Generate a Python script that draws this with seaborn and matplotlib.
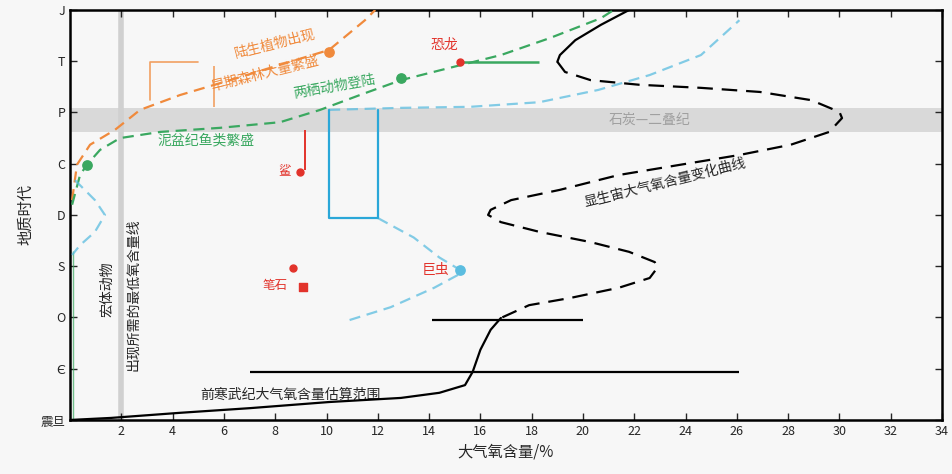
import matplotlib
matplotlib.use("Agg")
import matplotlib.pyplot as plt
import pandas as pd
import seaborn as sns

# ---- axes content ----
period_labels = ["震旦", "Є", "O", "S", "D", "C", "P", "T", "J"]
oxygen_ticks = list(range(2, 35, 2))

# Phanerozoic atmospheric O2 curve: oxygen (%) vs. period position
o2_x = [21.8, 20.7, 19.7, 19.1, 19.0, 19.3, 20.3, 22.2, 24.6, 26.9, 28.9, 30.0, 30.1,
        29.6, 28.1, 26.1, 23.8, 21.4, 19.1, 17.2, 16.4, 16.3, 16.8, 18.3, 20.3, 21.8,
        22.8, 22.9, 22.6, 21.4, 19.5, 17.9, 16.8, 16.4, 16.0, 15.7, 15.4, 14.4, 12.9,
        10.1, 7.0, 4.3, 1.6, 0.0]
o2_y = [8.0, 7.71, 7.41, 7.12, 6.99, 6.79, 6.63, 6.54, 6.48, 6.40, 6.24, 6.01, 5.89,
        5.62, 5.37, 5.17, 4.98, 4.78, 4.49, 4.29, 4.10, 4.0, 3.86, 3.67, 3.47, 3.28,
        3.08, 2.97, 2.77, 2.58, 2.38, 2.24, 1.99, 1.76, 1.37, 0.94, 0.68, 0.53, 0.43,
        0.35, 0.23, 0.14, 0.04, 0.0]
dashed_start, dashed_end = 4, 32

# uncertainty ranges (y, x_min, x_max)
range_y = [1.95, 0.94]
range_xmin = [14.1, 7.0]
range_xmax = [20.0, 26.1]

# land plants (orange)
plant_x = [0.08, 0.27, 0.78, 1.75, 2.73, 4.29, 6.24, 8.19, 10.1, 11.5, 11.9]
plant_y = [4.29, 4.98, 5.37, 5.66, 6.05, 6.34, 6.63, 6.93, 7.22, 7.80, 8.0]
plant_box_x = [3.1, 5.0]
plant_box_y = [6.24, 6.99]

# vertebrates (green)
vert_x = [0.08, 0.39, 0.66, 1.17, 1.95, 3.51, 5.85, 8.19, 9.75, 11.3, 12.9, 14.8,
          16.8, 18.7, 20.7, 21.2]
vert_y = [4.2, 4.78, 4.98, 5.27, 5.50, 5.62, 5.70, 5.81, 6.05, 6.34, 6.63, 6.87,
          7.12, 7.45, 7.84, 8.0]
vert_pts_x = [0.66, 12.9]
vert_pts_y = [4.98, 6.67]
dino_x = [15.2, 18.3]
dino_y = 6.99

# invertebrates / insects (blue)
insect_upper_x = [10.1, 12.9, 15.6, 18.3, 20.6, 22.6, 24.6, 26.1]
insect_upper_y = [6.05, 6.09, 6.11, 6.20, 6.44, 6.73, 7.12, 7.80]
insect_mid_x = [12.0, 13.4, 14.4, 15.2]
insect_mid_y = [3.94, 3.56, 3.17, 2.93]
insect_low_x = [10.9, 12.5, 14.2, 15.2]
insect_low_y = [1.95, 2.20, 2.58, 2.85]
insect_left_x = [0.19, 0.97, 1.36, 0.97, 0.39, 0.08]
insect_left_y = [4.68, 4.29, 4.0, 3.67, 3.41, 3.22]
insect_box_x = [10.1, 12.0]
insect_box_y = [3.94, 6.05]

# single fossil markers (red)
red_pts_x = [8.97, 8.7, 9.1, 15.2]
red_pts_y = [4.84, 2.96, 2.59, 2.93]

carb_perm_band = [5.62, 6.09]

sns.set_theme(style="ticks")
plt.rcParams["font.family"] = ["Noto Sans CJK SC", "DejaVu Sans"]
plt.rcParams["axes.unicode_minus"] = False

BG = "#f7f7f7"
ORANGE = "#f08a3c"
GREEN = "#3aa860"
BLUE = "#5bbde0"
RED = "#e2332b"

fig = plt.figure(figsize=(9.53, 4.74), dpi=100, facecolor=BG)
ax = fig.add_axes([0.0735, 0.114, 0.915, 0.865], facecolor=BG)

# Carboniferous-Permian high-oxygen band
ax.axhspan(*carb_perm_band, color="#d9d9d9", zorder=0, lw=0)
ax.text(22.6, sum(carb_perm_band) / 2, "石炭—二叠纪", color="#a0a0a0", fontsize=10,
        ha="center", va="center")

# minimum oxygen line for animals
ax.axvline(2.0, color="#d0d0d0", lw=4, zorder=0.5)
ax.text(1.45, 2.56, "宏体动物", rotation=90, fontsize=10, ha="center", va="center")
ax.text(2.45, 2.44, "出现所需的最低氧含量线", rotation=90, fontsize=10,
        ha="center", va="center")

# main oxygen curve
curve = pd.DataFrame({"x": o2_x, "y": o2_y, "i": range(len(o2_x))})
seg_top = curve[curve.i <= dashed_start]
seg_mid = curve[(curve.i >= dashed_start) & (curve.i <= dashed_end)]
seg_low = curve[curve.i >= dashed_end]
for seg, ls in [(seg_top, "-"), (seg_mid, (0, (7, 4))), (seg_low, "-")]:
    sns.lineplot(data=seg, x="x", y="y", sort=False, estimator=None, ax=ax,
                 color="black", lw=1.6, linestyle=ls, zorder=4)
ax.text(23.2, 4.62, "显生宙大气氧含量变化曲线", rotation=14, fontsize=10,
        ha="center", va="center")
ax.text(8.6, 0.5, "前寒武纪大气氧含量估算范围", fontsize=10, ha="center", va="center")

for yy, x0, x1 in zip(range_y, range_xmin, range_xmax):
    ax.hlines(yy, x0, x1, color="black", lw=1.6, zorder=4)

# land plants
sns.lineplot(x=plant_x, y=plant_y, sort=False, estimator=None, ax=ax, color=ORANGE,
             lw=1.6, linestyle=(0, (5, 3)), zorder=3)
ax.scatter([10.1], [7.18], s=45, color=ORANGE, zorder=5)
ax.plot([plant_box_x[0], plant_box_x[0], plant_box_x[1]],
        [plant_box_y[0], plant_box_y[1], plant_box_y[1]], color=ORANGE, lw=1.2, alpha=0.8)
ax.vlines(5.6, 6.1, 6.9, color=ORANGE, lw=1.2, alpha=0.8)
ax.text(8.0, 7.35, "陆生植物出现", color=ORANGE, fontsize=10, rotation=14,
        ha="center", va="center")
ax.text(7.6, 6.75, "早期森林大量繁盛", color=ORANGE, fontsize=10, rotation=14,
        ha="center", va="center")

# vertebrates
sns.lineplot(x=vert_x, y=vert_y, sort=False, estimator=None, ax=ax, color=GREEN,
             lw=1.6, linestyle=(0, (5, 3)), zorder=3)
ax.scatter(vert_pts_x, vert_pts_y, s=45, color=GREEN, zorder=5)
ax.hlines(dino_y, dino_x[0], dino_x[1], color=GREEN, lw=1.8, zorder=3)
ax.vlines(0.12, 0, 3.3, color=GREEN, lw=1.0, alpha=0.7)
ax.text(10.3, 6.5, "两栖动物登陆", color=GREEN, fontsize=10, rotation=10,
        ha="center", va="center")
ax.text(5.3, 5.45, "泥盆纪鱼类繁盛", color=GREEN, fontsize=10, ha="center", va="center")

# invertebrates / insects
for xs, ys in [(insect_upper_x, insect_upper_y), (insect_mid_x, insect_mid_y),
               (insect_low_x, insect_low_y), (insect_left_x, insect_left_y)]:
    sns.lineplot(x=xs, y=ys, sort=False, estimator=None, ax=ax, color=BLUE,
                 lw=1.6, alpha=0.75, linestyle=(0, (5, 3)), zorder=3)
ax.plot([insect_box_x[0], insect_box_x[0], insect_box_x[1], insect_box_x[1]],
        [insect_box_y[1], insect_box_y[0], insect_box_y[0], insect_box_y[1]],
        color="#2aa7d8", lw=1.6, zorder=3)
ax.scatter([15.2], [2.93], s=45, color=BLUE, zorder=5)

# fossil markers
ax.vlines(9.16, 4.88, 5.66, color=RED, lw=1.4, zorder=4)
ax.scatter(red_pts_x[:2], red_pts_y[:2], s=25, color=RED, zorder=5)
ax.scatter([red_pts_x[2]], [red_pts_y[2]], s=40, marker="s", color=RED, zorder=5)
ax.scatter([15.2], [dino_y], s=25, color=RED, zorder=5)
ax.text(8.6, 4.84, "鲨", color=RED, fontsize=9, ha="right", va="center")
ax.text(8.5, 2.62, "笔石", color=RED, fontsize=9, ha="right", va="center")
ax.text(14.8, 2.93, "巨虫", color=RED, fontsize=10, ha="right", va="center")
ax.text(14.6, 7.32, "恐龙", color=RED, fontsize=10, ha="center", va="center")

# axes
ax.set_xlim(0, 34)
ax.set_ylim(0, 8)
ax.set_xticks(oxygen_ticks)
ax.set_xticklabels([str(t) for t in oxygen_ticks], fontsize=9)
ax.set_yticks(range(len(period_labels)))
ax.set_yticklabels(period_labels, fontsize=9)
ax.tick_params(direction="in", top=True, right=True, length=5, width=1.0)
for sp in ax.spines.values():
    sp.set_linewidth(1.8)
    sp.set_color("black")
ax.set_xlabel("大气氧含量/%", fontsize=11, labelpad=4)
ax.set_ylabel("地质时代", fontsize=11, labelpad=4)

fig.savefig("out.png", dpi=100, facecolor=BG)
